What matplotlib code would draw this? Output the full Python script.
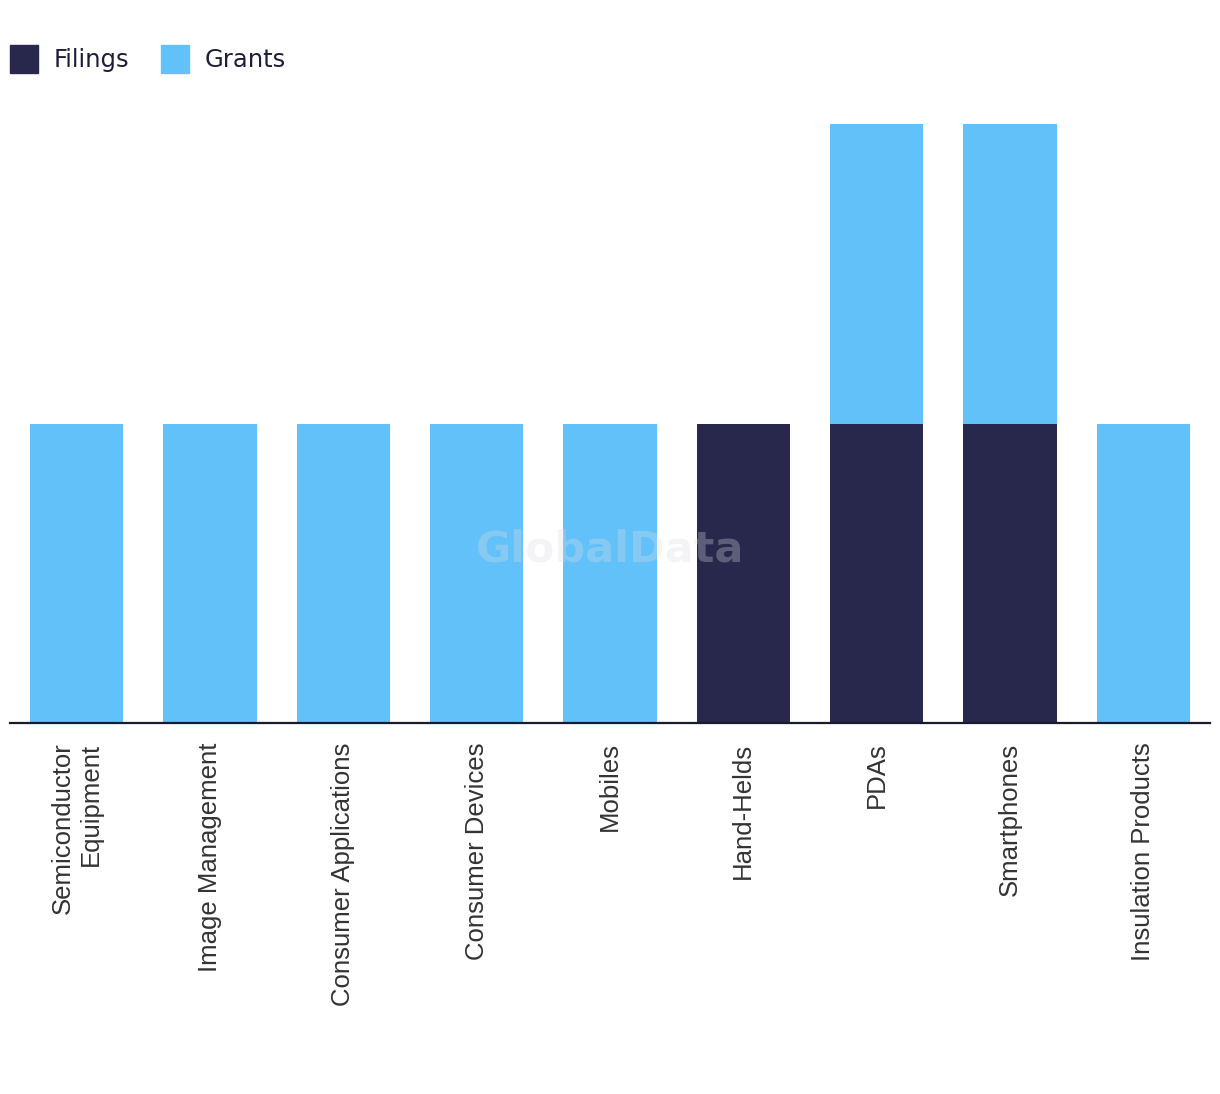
import matplotlib.pyplot as plt
import numpy as np
from matplotlib.patches import Patch

# Categories and stacked series
categories = ['Semiconductor\nEquipment', 'Image Management', 'Consumer Applications',
              'Consumer Devices', 'Mobiles', 'Hand-Helds', 'PDAs', 'Smartphones',
              'Insulation Products']
filings = [0, 0, 0, 0, 0, 1, 1, 1, 0]
grants = [1, 1, 1, 1, 1, 0, 1, 1, 1]

navy = '#27284b'
blue = '#62c1f9'

fig = plt.figure(figsize=(12.2, 10.94), dpi=100)
ax = fig.add_axes([10 / 1220, 1 - 723 / 1094, 1200 / 1220, 599 / 1094])

x = np.arange(len(categories))
ax.bar(x, filings, width=0.7, color=navy, label='Filings')
ax.bar(x, grants, width=0.7, bottom=filings, color=blue, label='Grants')

ax.set_xlim(-0.5, len(categories) - 0.5)
ax.set_ylim(0, 2)
ax.set_yticks([])
ax.set_xticks(x)
ax.set_xticklabels(categories, rotation=90, ha='center', va='top', multialignment='right',
                   fontsize=18.5, color='#333333', family='Liberation Sans')
ax.tick_params(axis='x', length=0, pad=14)
for s in ['top', 'right', 'left']:
    ax.spines[s].set_visible(False)
ax.spines['bottom'].set_linewidth(1.6)
ax.spines['bottom'].set_color('#1a1a2e')

# Watermark
ax.text(0.5, 0.29, 'GlobalData', transform=ax.transAxes, ha='center', va='center',
        fontsize=31, fontweight='bold', color='#dcdce4', alpha=0.3, zorder=5)

# Legend
handles = [Patch(color=navy, label='Filings'), Patch(color=blue, label='Grants')]
fig.legend(handles=handles, loc='upper left', bbox_to_anchor=(-0.0095, 0.979), ncol=2,
           frameon=False, fontsize=17.5, handlelength=1.15, handleheight=1.4,
           handletextpad=0.65, columnspacing=1.3, labelcolor='#1e1e3a')

fig.savefig('out.png', dpi=100)
